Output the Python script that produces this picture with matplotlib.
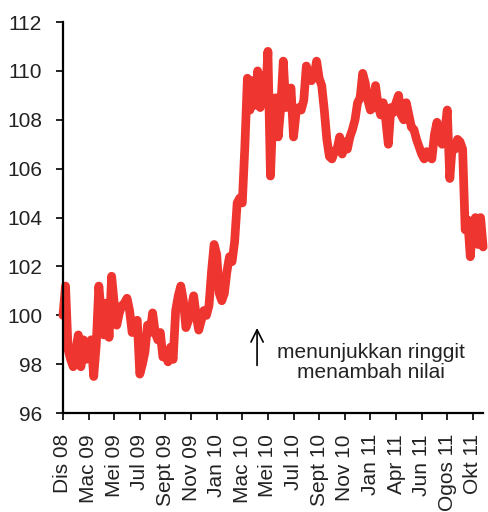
import matplotlib.pyplot as plt
import numpy as np

# Ringgit index, 10 readings between each labelled tick
values = [
    100.0, 101.2, 98.6, 98.2, 97.9, 98.6, 99.2, 97.9, 99.0, 98.2,
    98.6, 99.0, 97.5, 98.8, 101.2, 100.0, 99.2, 100.5, 99.1, 101.6,
    100.5, 99.6, 100.1, 100.4, 100.5, 100.7, 100.2, 99.3, 99.6, 99.8,
    97.6, 98.0, 98.5, 99.6, 99.3, 100.1, 99.3, 99.0, 99.3, 98.3,
    98.5, 98.1, 98.7, 98.2, 100.2, 100.8, 101.2, 100.6, 99.5, 99.8,
    100.2, 100.8, 100.0, 99.4, 99.8, 100.2, 100.0, 100.4, 101.8, 102.9,
    102.5, 100.9, 100.6, 100.9, 101.8, 102.4, 102.2, 103.0, 104.6, 104.8,
    104.6, 106.9, 109.7, 108.4, 109.6, 108.6, 110.0, 108.5, 109.8, 108.8,
    110.8, 105.7, 108.5, 108.9, 107.3, 108.5, 110.4, 108.5, 108.8, 109.3,
    107.3, 108.3, 108.5, 108.4, 108.8, 110.2, 109.7, 109.6, 109.8, 110.4,
    109.7, 109.4, 108.4, 107.2, 106.5, 106.4, 106.7, 106.8, 107.3, 106.6,
    107.1, 106.8, 107.3, 107.6, 108.0, 108.7, 108.9, 109.9, 109.5, 108.8,
    108.4, 108.5, 109.4, 108.6, 108.2, 108.7, 108.0, 107.0, 108.5, 108.3,
    108.7, 109.0, 108.2, 108.0, 108.7, 108.2, 107.7, 107.6, 107.2, 106.9,
    106.6, 106.4, 106.7, 106.5, 106.4, 107.4, 107.9, 107.2, 107.0, 107.5,
    108.4, 105.6, 107.0, 106.8, 107.2, 107.1, 106.8, 103.5, 103.9, 102.4,
    103.8, 104.0, 102.9, 104.0, 102.8,
]

tick_labels = ["Dis 08", "Mac 09", "Mei 09", "Jul 09", "Sept 09", "Nov 09",
               "Jan 10", "Mac 10", "Mei 10", "Jul 10", "Sept 10", "Nov 10",
               "Jan 11", "Apr 11", "Jun 11", "Ogos 11", "Okt 11"]
points_per_label = 10

plt.rcParams['font.family'] = ['Liberation Sans', 'DejaVu Sans']

fig = plt.figure(figsize=(4.88, 5.12), dpi=100)
ax = fig.add_axes([0.129, 0.193, 0.861, 0.764])

x = np.arange(len(values))
ax.plot(x, values, color="#EE3530", linewidth=6.3, solid_joinstyle="round",
        solid_capstyle="round", clip_on=False)

ax.set_ylim(96, 112)
ax.set_yticks(np.arange(96, 113, 2))
ax.set_xlim(0, len(values) - 1)
ax.set_xticks(np.arange(len(tick_labels)) * points_per_label)
ax.set_xticklabels(tick_labels, rotation=90)

for s in ["top", "right"]:
    ax.spines[s].set_visible(False)
for s in ["left", "bottom"]:
    ax.spines[s].set_linewidth(1.6)
ax.tick_params(axis="both", labelsize=15, width=1.2, length=5,
               colors="black", labelcolor="#222222")
ax.tick_params(axis="x", pad=10)
ax.tick_params(axis="y", pad=10)

ax.annotate("", xy=(0.462, 0.225), xytext=(0.462, 0.115),
            xycoords="axes fraction", textcoords="axes fraction",
            arrowprops=dict(arrowstyle="->", color="black", lw=1.2,
                            mutation_scale=22))
ax.text(0.733, 0.130, "menunjukkan ringgit\nmenambah nilai",
        transform=ax.transAxes, ha="center", va="center",
        fontsize=15, color="#222222", linespacing=1.1)

fig.savefig("out.png", dpi=100)
